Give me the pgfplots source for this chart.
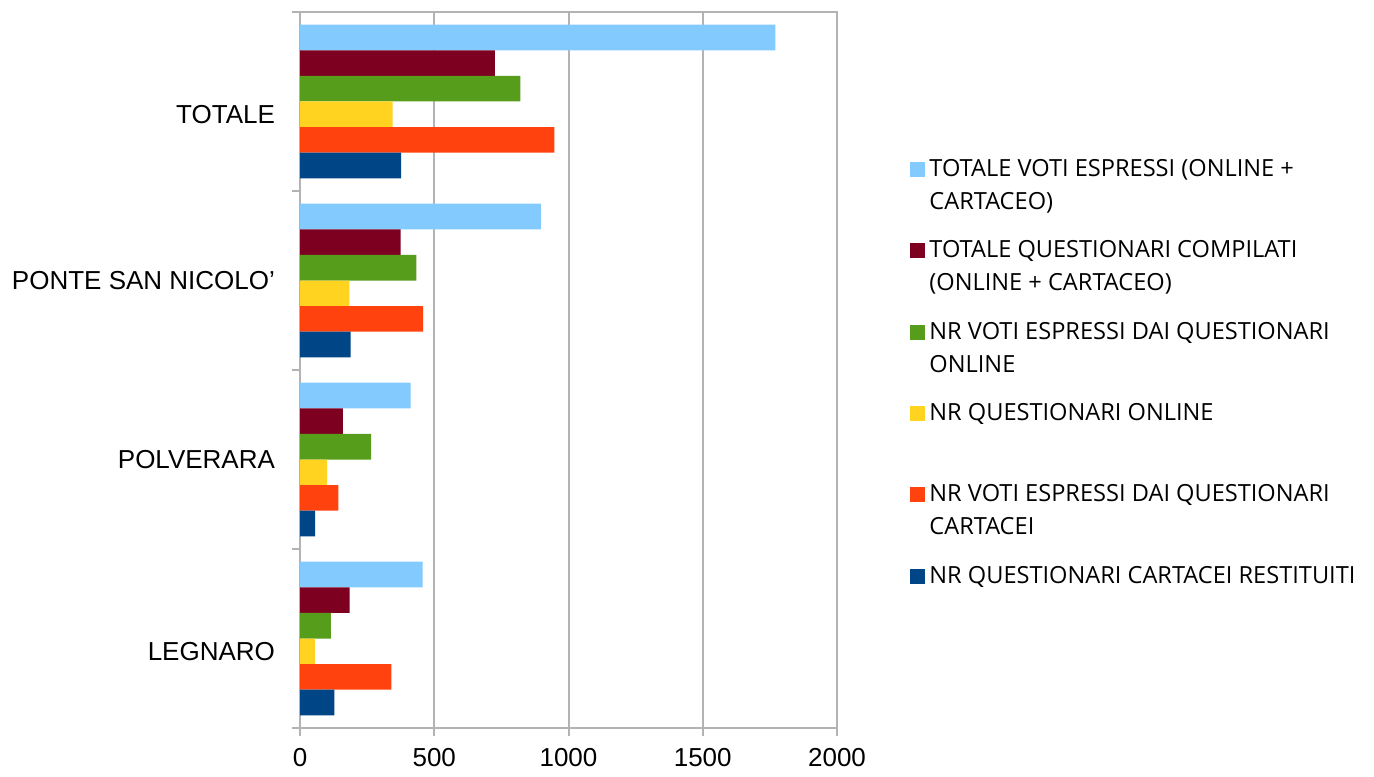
\documentclass[border=0pt]{standalone}
\usepackage{fontspec}
\setmainfont{Liberation Sans}
\newfontfamily\legfont{Open Sans}
\usepackage{pgfplots}
\pgfplotsset{compat=1.18}
\definecolor{c1}{HTML}{83CAFF}
\definecolor{c2}{HTML}{7E0021}
\definecolor{c3}{HTML}{579D1C}
\definecolor{c4}{HTML}{FFD320}
\definecolor{c5}{HTML}{FF420E}
\definecolor{c6}{HTML}{004586}
\definecolor{gridgray}{HTML}{B3B3B3}
\begin{document}
\begin{tikzpicture}
\useasboundingbox (0,0) rectangle (687pt,388pt);
\begin{axis}[
  at={(150pt,24pt)}, anchor=south west,
  scale only axis, width=268.5pt, height=358pt,
  xmin=0, xmax=2000, ymin=-0.5, ymax=3.5,
  xtick={0,500,...,2000},
  xmajorgrids, grid style={line width=1pt, gridgray},
  axis line style={line width=1pt, gridgray},
  tick style={line width=1pt, gridgray},
  tick align=outside,
  xtick pos=bottom, ytick pos=left,
  major tick length=4pt, minor tick length=4pt,
  ytick={-0.075,1,2,2.927},
  yticklabels={LEGNARO,POLVERARA,PONTE SAN NICOLO’,TOTALE},
  minor ytick={-0.5,0.5,1.5,2.5,3.5},
  major y tick style={draw=none},
  yticklabel style={xshift=-5pt},
  xticklabel style={yshift=-2.5pt},
  tick label style={font=\fontsize{13}{15}\selectfont, black},
  /pgf/number format/assume math mode=true,
  /pgf/number format/1000 sep={},
  xbar=0pt, bar width=0.143,
  every axis plot/.append style={draw=none},
  legend cell align=left,
  legend image code/.code={\fill[#1] (0pt,4.5pt) rectangle (7.5pt,12pt);},
  legend style={at={(1.136,0.473)}, anchor=west, draw=none, fill=none,
    font=\legfont\fontsize{11.8}{16.5}\selectfont, cells={align=left},
    row sep=10.1pt, inner sep=0pt},
]
\addplot[fill=c1, bar shift=0.3575] coordinates {(457,0) (412,1) (897,2) (1770,3)};
\addlegendentry{TOTALE VOTI ESPRESSI (ONLINE +\\CARTACEO)}
\addplot[fill=c2, bar shift=0.2145] coordinates {(185,0) (160,1) (375,2) (726,3)};
\addlegendentry{TOTALE QUESTIONARI COMPILATI\\(ONLINE + CARTACEO)}
\addplot[fill=c3, bar shift=0.0715] coordinates {(115,0) (265,1) (433,2) (821,3)};
\addlegendentry{NR VOTI ESPRESSI DAI QUESTIONARI\\ONLINE}
\addplot[fill=c4, bar shift=-0.0715] coordinates {(55,0) (101,1) (184,2) (345,3)};
\addlegendentry{NR QUESTIONARI ONLINE\\\mbox{}}
\addplot[fill=c5, bar shift=-0.2145] coordinates {(340,0) (143,1) (459,2) (947,3)};
\addlegendentry{NR VOTI ESPRESSI DAI QUESTIONARI\\CARTACEI}
\addplot[fill=c6, bar shift=-0.3575] coordinates {(128,0) (56,1) (189,2) (377,3)};
\addlegendentry{NR QUESTIONARI CARTACEI RESTITUITI\\\mbox{}}
\end{axis}
\end{tikzpicture}
\end{document}
